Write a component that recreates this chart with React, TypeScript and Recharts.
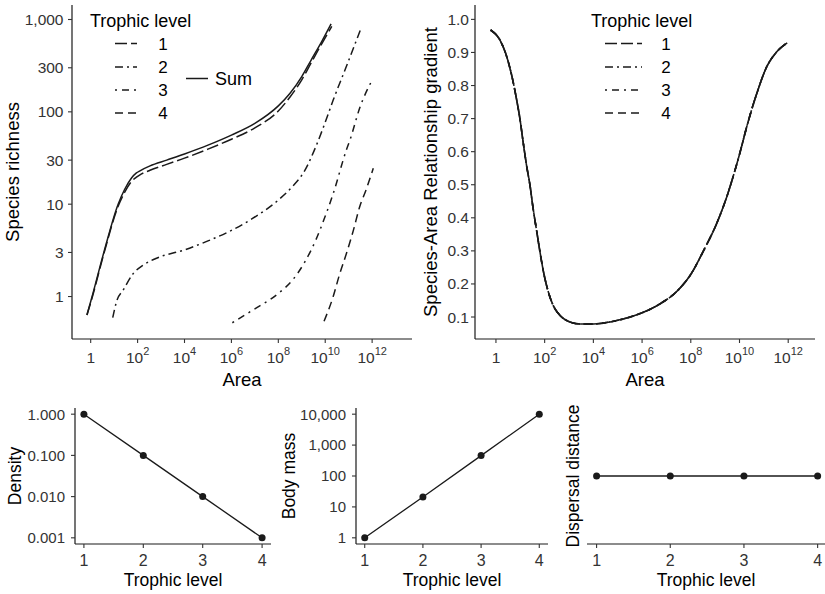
import React from "react";
import { LineChart, Line, XAxis, YAxis, Legend } from "recharts";

const FONT = '"Liberation Sans", Arial, Helvetica, sans-serif';
const INK = "#1a1a1a";
const TICK_INK = "#333333";

// ── Species richness vs area (log10 of area, richness) ─────────────
const RICH_SUM_LOGAREA = [-0.16, 0.06, 0.56, 1.17, 1.45, 1.74, 1.95, 2.1, 2.53, 3.24, 4.0, 5.0, 6.0, 7.0, 8.0, 8.5, 9.0, 9.4, 9.85, 10.25];
const RICH_SUM = [0.63, 1.0, 3.0, 10, 14.5, 19.2, 21.8, 23, 26, 30, 35, 43.6, 56, 75, 116, 159, 241, 364, 576, 895];

const RICH_L1_LOGAREA = [-0.16, 0.06, 0.56, 1.17, 1.45, 1.74, 1.95, 2.1, 2.53, 3.24, 4.0, 5.0, 6.0, 7.0, 8.0, 8.5, 9.0, 9.4, 9.85, 10.28];
const RICH_L1 = [0.63, 0.97, 2.9, 9.5, 13.5, 17.6, 19.6, 20.8, 23.3, 27, 31.5, 39.5, 50.5, 67, 102, 145, 222, 340, 545, 840];

const RICH_L2_LOGAREA = [0.94, 1.1, 1.39, 1.82, 2.24, 2.81, 4.0, 5.0, 6.0, 6.9, 8.0, 8.6, 9.1, 9.6, 9.99, 10.34, 10.9, 11.55];
const RICH_L2 = [0.59, 0.88, 1.18, 1.78, 2.19, 2.6, 3.2, 4.0, 5.2, 7.0, 11.1, 15.5, 22.5, 42, 76, 134, 309, 835];

const RICH_L3_LOGAREA = [6.04, 6.9, 8.0, 8.6, 9.1, 9.6, 9.99, 10.34, 10.9, 11.06, 11.47, 12.0];
const RICH_L3 = [0.52, 0.71, 1.08, 1.5, 2.3, 4.1, 7.3, 13, 38.6, 50, 110, 221];

const RICH_L4_LOGAREA = [9.95, 10.34, 10.6, 10.9, 11.2, 11.47, 11.75, 12.05];
const RICH_L4 = [0.54, 1.0, 1.7, 2.9, 5.2, 9.4, 14.5, 24.5];

// ── Species-area relationship gradient ─────────────────────────────
const SAR_LOGAREA = [-0.22, 0.16, 0.44, 0.64, 0.85, 0.99, 1.12, 1.26, 1.4, 1.53, 1.67, 1.81, 1.94, 2.15, 2.35, 2.63, 3.04, 3.45, 4.0, 4.68, 5.37, 5.98, 6.74, 7.42, 8.01, 8.52, 9.07, 9.48, 9.82, 10.03, 10.3, 10.71, 11.12, 11.53, 11.98];
const SAR_GRADIENT = [0.968, 0.938, 0.888, 0.833, 0.757, 0.697, 0.627, 0.557, 0.497, 0.426, 0.361, 0.296, 0.241, 0.176, 0.135, 0.105, 0.085, 0.079, 0.079, 0.085, 0.097, 0.112, 0.14, 0.177, 0.23, 0.3, 0.384, 0.464, 0.545, 0.6, 0.676, 0.776, 0.857, 0.902, 0.93];

// ── Trophic level traits ───────────────────────────────────────────
const TROPHIC_LEVELS = [1, 2, 3, 4];
const DENSITY = [1, 0.1, 0.01, 0.001];
const BODY_MASS = [1, 21, 457, 10000];
const DISPERSAL = [1, 1, 1, 1];

const AREA_TICKS = [1, 1e2, 1e4, 1e6, 1e8, 1e10, 1e12];
const RICH_TICKS = [1, 3, 10, 30, 100, 300, 1000];
const SAR_TICKS = [0.1, 0.2, 0.3, 0.4, 0.5, 0.6, 0.7, 0.8, 0.9, 1.0];
const DENSITY_TICKS = [0.001, 0.01, 0.1, 1];
const MASS_TICKS = [1, 10, 100, 1000, 10000];

const LEVEL_DASH = ["12 4", "8 4 2 4", "2 5 7 5", "8 5"];
const LEVEL_LABELS = ["1", "2", "3", "4"];

const toPoints = (logArea: number[], vals: number[]) =>
  logArea.map((e, i) => ({ area: 10 ** e, value: vals[i] }));

const levelPoints = (vals: number[]) =>
  TROPHIC_LEVELS.map((t, i) => ({ level: t, value: vals[i] }));

const richSeries = [
  toPoints(RICH_L1_LOGAREA, RICH_L1),
  toPoints(RICH_L2_LOGAREA, RICH_L2),
  toPoints(RICH_L3_LOGAREA, RICH_L3),
  toPoints(RICH_L4_LOGAREA, RICH_L4),
];
const richSum = toPoints(RICH_SUM_LOGAREA, RICH_SUM);
const sarData = toPoints(SAR_LOGAREA, SAR_GRADIENT);

const axisLine = { stroke: INK, strokeWidth: 1.2 };
const tickLine = { stroke: TICK_INK, strokeWidth: 1.1 };
const titleStyle = { fontSize: 18.5, fill: "#000", fontFamily: FONT };
const smallTitle = { fontSize: 17.5, fill: "#000", fontFamily: FONT };
const dotStyle = { r: 3.5, fill: INK, stroke: INK, strokeWidth: 0 };

function AreaTick({ x, y, payload }: any) {
  const e = Math.round(Math.log10(payload.value));
  return (
    <text x={x} y={y} dy="0.71em" textAnchor="middle" fontSize={15.5} fill={TICK_INK} fontFamily={FONT}>
      {e === 0 ? (
        "1"
      ) : (
        <>
          <tspan>10</tspan>
          <tspan dy={-8} fontSize={11}>{e}</tspan>
        </>
      )}
    </text>
  );
}

interface LegendProps {
  sampleX: number;
  sampleW: number;
  labelX: number;
  withSum?: boolean;
}

function TrophicLegend({ sampleX, sampleW, labelX, withSum }: LegendProps) {
  const rows = [35.5, 59, 82, 105];
  return (
    <svg width={180} height={120} style={{ display: "block", overflow: "visible" }}>
      <text x={5} y={19} fontSize={18} fill="#000" fontFamily={FONT}>
        Trophic level
      </text>
      {rows.map((ry, i) => (
        <g key={i}>
          <line x1={sampleX} x2={sampleX + sampleW} y1={ry} y2={ry} stroke={INK} strokeWidth={1.5} strokeDasharray={LEVEL_DASH[i]} />
          <text x={labelX} y={ry + 6} textAnchor="middle" fontSize={17} fill="#000" fontFamily={FONT}>
            {LEVEL_LABELS[i]}
          </text>
        </g>
      ))}
      {withSum && (
        <g>
          <line x1={101} x2={123} y1={70.5} y2={70.5} stroke={INK} strokeWidth={1.5} />
          <text x={130} y={77} fontSize={18} fill="#000" fontFamily={FONT}>
            Sum
          </text>
        </g>
      )}
    </svg>
  );
}

export default function App() {
  return (
    <div style={{ position: "absolute", left: 0, top: 0, width: 825, height: 594, background: "#fff", fontFamily: FONT }}>
      {/* A — species richness */}
      <div style={{ position: "absolute", left: 0, top: 0 }}>
        <LineChart width={420} height={395} margin={{ top: 5, right: 8, bottom: 0, left: 0 }}>
          <XAxis
            type="number"
            dataKey="area"
            scale="log"
            domain={[10 ** -0.797, 10 ** 13.7]}
            allowDataOverflow
            ticks={AREA_TICKS}
            interval={0}
            height={56}
            axisLine={axisLine}
            tickLine={tickLine}
            tickSize={4}
            tickMargin={9}
            tick={<AreaTick />}
            label={{ value: "Area", position: "insideBottom", offset: 9, style: titleStyle }}
          />
          <YAxis
            type="number"
            dataKey="value"
            scale="log"
            domain={[10 ** -0.46, 10 ** 3.157]}
            allowDataOverflow
            ticks={RICH_TICKS}
            interval={0}
            width={72}
            axisLine={axisLine}
            tickLine={tickLine}
            tickSize={4}
            tickMargin={4.5}
            tick={{ fontSize: 15.5, fill: TICK_INK, fontFamily: FONT }}
            tickFormatter={(v: number) => v.toLocaleString("en-US")}
            label={{ value: "Species richness", angle: -90, position: "insideLeft", offset: 12.5, style: { ...titleStyle, textAnchor: "middle" } }}
          />
          {richSeries.map((d, i) => (
            <Line key={i} data={d} dataKey="value" type="monotone" stroke={INK} strokeWidth={1.5} strokeDasharray={LEVEL_DASH[i]} dot={false} isAnimationActive={false} />
          ))}
          <Line data={richSum} dataKey="value" type="monotone" stroke={INK} strokeWidth={1.5} dot={false} isAnimationActive={false} />
          <Legend
            layout="vertical"
            align="center"
            verticalAlign="middle"
            wrapperStyle={{ position: "absolute", left: 85, top: 8, width: 180, height: 120 }}
            content={() => <TrophicLegend sampleX={30} sampleW={22} labelX={78} withSum />}
          />
        </LineChart>
      </div>

      {/* B — SAR gradient */}
      <div style={{ position: "absolute", left: 410, top: 0 }}>
        <LineChart width={415} height={395} margin={{ top: 5, right: 10, bottom: 0, left: 0 }}>
          <XAxis
            type="number"
            dataKey="area"
            scale="log"
            domain={[10 ** -0.86, 10 ** 13.1]}
            allowDataOverflow
            ticks={AREA_TICKS}
            interval={0}
            height={56}
            axisLine={axisLine}
            tickLine={tickLine}
            tickSize={4}
            tickMargin={9}
            tick={<AreaTick />}
            label={{ value: "Area", position: "insideBottom", offset: 9, style: titleStyle }}
          />
          <YAxis
            type="number"
            dataKey="value"
            domain={[0.0335, 1.0435]}
            allowDataOverflow
            ticks={SAR_TICKS}
            interval={0}
            width={65}
            axisLine={axisLine}
            tickLine={tickLine}
            tickSize={4}
            tickMargin={2}
            tick={{ fontSize: 15.5, fill: TICK_INK, fontFamily: FONT }}
            tickFormatter={(v: number) => v.toFixed(1)}
            label={{ value: "Species-Area Relationship gradient", angle: -90, position: "insideLeft", offset: 20.5, style: { ...titleStyle, textAnchor: "middle" } }}
          />
          {LEVEL_DASH.map((dash, i) => (
            <Line key={i} data={sarData} dataKey="value" type="monotone" stroke={INK} strokeWidth={1.6} strokeDasharray={dash} dot={false} isAnimationActive={false} />
          ))}
          <Legend
            layout="vertical"
            align="center"
            verticalAlign="middle"
            wrapperStyle={{ position: "absolute", left: 176, top: 8, width: 180, height: 120 }}
            content={() => <TrophicLegend sampleX={19} sampleW={37} labelX={80} />}
          />
        </LineChart>
      </div>

      {/* C — density */}
      <div style={{ position: "absolute", left: 0, top: 395 }}>
        <LineChart width={280} height={199} data={levelPoints(DENSITY)} margin={{ top: 13, right: 9, bottom: 0, left: 0 }}>
          <XAxis
            type="number"
            dataKey="level"
            domain={[0.85, 4.15]}
            ticks={TROPHIC_LEVELS}
            interval={0}
            height={50}
            axisLine={axisLine}
            tickLine={tickLine}
            tickSize={4}
            tickMargin={7}
            tick={{ fontSize: 16, fill: TICK_INK, fontFamily: FONT }}
            label={{ value: "Trophic level", position: "insideBottom", offset: 8, style: smallTitle }}
          />
          <YAxis
            type="number"
            scale="log"
            domain={[10 ** -3.15, 10 ** 0.15]}
            allowDataOverflow
            ticks={DENSITY_TICKS}
            interval={0}
            width={75}
            axisLine={axisLine}
            tickLine={tickLine}
            tickSize={4}
            tickMargin={6}
            tick={{ fontSize: 15, fill: TICK_INK, fontFamily: FONT }}
            tickFormatter={(v: number) => v.toFixed(3)}
            label={{ value: "Density", angle: -90, position: "insideLeft", offset: 14.5, style: { ...smallTitle, textAnchor: "middle" } }}
          />
          <Line dataKey="value" stroke={INK} strokeWidth={1.3} dot={dotStyle} isAnimationActive={false} />
        </LineChart>
      </div>

      {/* D — body mass */}
      <div style={{ position: "absolute", left: 280, top: 395 }}>
        <LineChart width={270} height={199} data={levelPoints(BODY_MASS)} margin={{ top: 13, right: 2, bottom: 0, left: 0 }}>
          <XAxis
            type="number"
            dataKey="level"
            domain={[0.85, 4.15]}
            ticks={TROPHIC_LEVELS}
            interval={0}
            height={50}
            axisLine={axisLine}
            tickLine={tickLine}
            tickSize={4}
            tickMargin={7}
            tick={{ fontSize: 16, fill: TICK_INK, fontFamily: FONT }}
            label={{ value: "Trophic level", position: "insideBottom", offset: 8, style: smallTitle }}
          />
          <YAxis
            type="number"
            scale="log"
            domain={[10 ** -0.2, 10 ** 4.2]}
            allowDataOverflow
            ticks={MASS_TICKS}
            interval={0}
            width={76}
            axisLine={axisLine}
            tickLine={tickLine}
            tickSize={4}
            tickMargin={6}
            tick={{ fontSize: 15, fill: TICK_INK, fontFamily: FONT }}
            tickFormatter={(v: number) => v.toLocaleString("en-US")}
            label={{ value: "Body mass", angle: -90, position: "insideLeft", offset: 9, style: { ...smallTitle, textAnchor: "middle" } }}
          />
          <Line dataKey="value" stroke={INK} strokeWidth={1.3} dot={dotStyle} isAnimationActive={false} />
        </LineChart>
      </div>

      {/* E — dispersal distance */}
      <div style={{ position: "absolute", left: 550, top: 395 }}>
        <LineChart width={275} height={199} data={levelPoints(DISPERSAL)} margin={{ top: 13, right: 0, bottom: 0, left: 0 }}>
          <XAxis
            type="number"
            dataKey="level"
            domain={[0.87, 4.1]}
            ticks={TROPHIC_LEVELS}
            interval={0}
            height={50}
            axisLine={axisLine}
            tickLine={tickLine}
            tickSize={4}
            tickMargin={7}
            tick={{ fontSize: 16, fill: TICK_INK, fontFamily: FONT }}
            label={{ value: "Trophic level", position: "insideBottom", offset: 8, style: smallTitle }}
          />
          <YAxis
            type="number"
            domain={[0, 2]}
            width={37}
            axisLine={false}
            tickLine={false}
            tick={false}
            label={{ value: "Dispersal distance", angle: -90, position: "insideLeft", offset: 22.5, style: { ...smallTitle, textAnchor: "middle" } }}
          />
          <Line dataKey="value" stroke={INK} strokeWidth={1.3} dot={dotStyle} isAnimationActive={false} />
        </LineChart>
      </div>
    </div>
  );
}
